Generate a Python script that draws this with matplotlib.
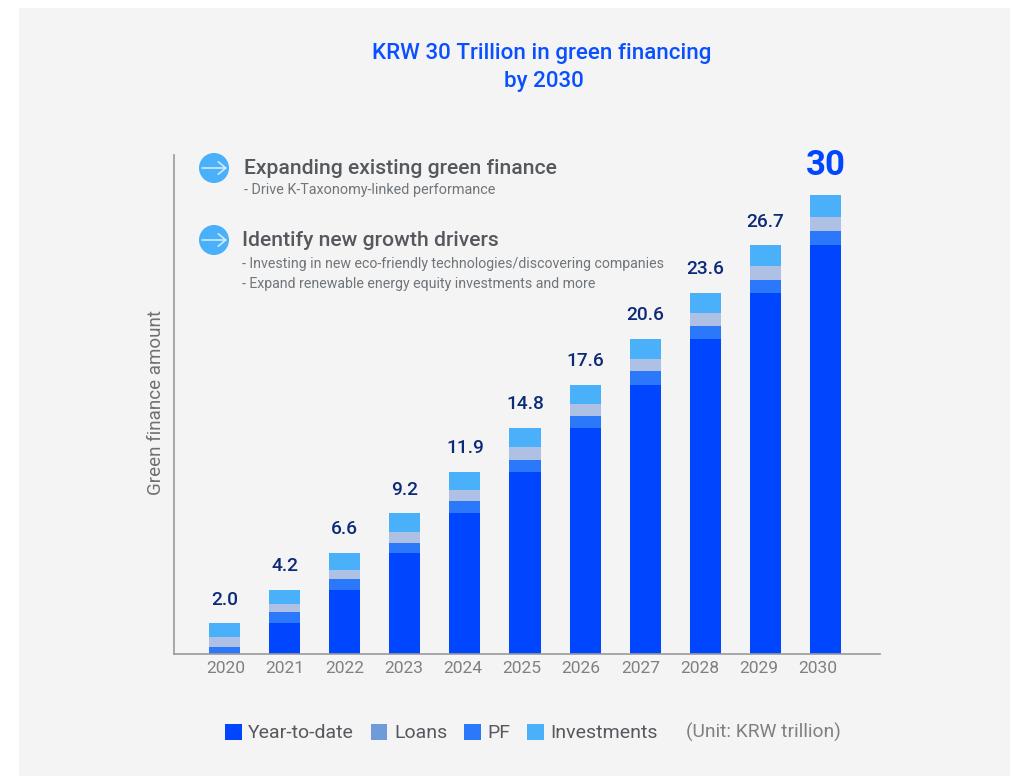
import matplotlib
matplotlib.use("Agg")
import matplotlib.pyplot as plt
from matplotlib.patches import Rectangle, Circle, Patch
import numpy as np

years = ['2020','2021','2022','2023','2024','2025','2026','2027','2028','2029','2030']
ytd = [0.0,2.0,4.2,6.6,9.2,11.9,14.8,17.6,20.6,23.6,26.7]
pf = [0.46,0.72,0.72,0.65,0.78,0.78,0.78,0.92,0.85,0.85,0.92]
loans = [0.65,0.52,0.59,0.72,0.72,0.85,0.78,0.78,0.85,0.92,0.92]
investments = [0.89,0.96,1.09,1.23,1.20,1.27,1.24,1.30,1.30,1.33,1.46]
totals = ['2.0','4.2','6.6','9.2','11.9','14.8','17.6','20.6','23.6','26.7','30']

W, H = 1016, 776
FONT = ['Roboto', 'DejaVu Sans']
plt.rcParams['font.family'] = FONT
BLUE = '#0046ff'; PF = '#2b78fb'; LOAN = '#aec1e5'; LOAN_KEY = '#6f9cd8'; INV = '#4ab0fa'
GREY = '#55595e'

fig = plt.figure(figsize=(W/100, H/100), dpi=100, facecolor='white')
bg = fig.add_axes([0, 0, 1, 1], zorder=0)
bg.set_xlim(0, W); bg.set_ylim(H, 0); bg.axis('off')
bg.add_patch(Rectangle((19, 8), 991, 768, fc='#f4f4f4', ec='none'))

ax = fig.add_axes([174/W, 1-654/H, (880-174)/W, (654-155)/H], zorder=1)
ax.patch.set_alpha(0)
x = np.arange(len(years))
w = 0.517
y0 = np.array(ytd); y1 = y0+np.array(pf); y2 = y1+np.array(loans); y3 = y2+np.array(investments)
ax.bar(x, ytd, w, color=BLUE)
ax.bar(x, pf, w, bottom=y0, color=PF)
ax.bar(x, loans, w, bottom=y1, color=LOAN)
ax.bar(x, investments, w, bottom=y2, color=INV)
ax.set_xlim(-0.84, 10.907)
ax.set_ylim(0, 499/15.3)
for s in ['top', 'right']:
    ax.spines[s].set_visible(False)
for s in ['left', 'bottom']:
    ax.spines[s].set_color('#9a9a9a'); ax.spines[s].set_linewidth(1.2)
ax.set_yticks([])
ax.set_xticks(0.025 + 0.985*x, years)
ax.tick_params(axis='x', length=0, pad=4.7, labelsize=12.5, labelcolor='#808080')
ax.set_ylabel('Green finance amount', fontsize=13.5, color='#707070', labelpad=6)
ax.yaxis.set_label_coords((165-174)/(880-174), 0.505)

for i, t in enumerate(totals):
    last = i == len(totals)-1
    ax.annotate(t, (x[i], y3[i]), xytext=(0, 10.5 if not last else 9.5), textcoords='offset points',
                ha='center', va='bottom',
                color=BLUE if last else '#0c2a78',
                fontsize=25 if last else 13.8, fontweight='bold' if last else 'medium')

bg.text(542, 53, 'KRW 30 Trillion in green financing', ha='center', va='center',
        color='#0a50ff', fontsize=16.1, fontweight='medium')
bg.text(544, 81, 'by 2030', ha='center', va='center', color='#0a50ff', fontsize=16.1, fontweight='medium')

for cy in (168, 240):
    bg.add_patch(Circle((214, cy), 15, fc=INV, ec='none'))
    bg.annotate('', xy=(227, cy), xytext=(202, cy),
                arrowprops=dict(arrowstyle='->,head_length=0.55,head_width=0.45', color='#d9efff', lw=1.1, shrinkA=0, shrinkB=0))

bg.text(244, 168, 'Expanding existing green finance', va='center', color=GREY, fontsize=15.2, fontweight='medium')
bg.text(244, 190, '- Drive K-Taxonomy-linked performance', va='center', color='#70757a', fontsize=10.4)
bg.text(242, 241, 'Identify new growth drivers', va='center', color=GREY, fontsize=15.2, fontweight='medium')
bg.text(242, 264, '- Investing in new eco-friendly technologies/discovering companies', va='center', color='#70757a', fontsize=10.2)
bg.text(242, 284, '- Expand renewable energy equity investments and more', va='center', color='#70757a', fontsize=10.2)

handles = [Patch(fc=BLUE, label='Year-to-date'), Patch(fc=LOAN_KEY, label='Loans'),
           Patch(fc=PF, label='PF'), Patch(fc=INV, label='Investments')]
bg.legend(handles=handles, ncol=4, frameon=False, loc='center left',
          bbox_to_anchor=(225/W, 1-733/H), bbox_transform=fig.transFigure,
          borderaxespad=0, borderpad=0, fontsize=14, labelcolor=GREY,
          handlelength=0.85, handleheight=0.9, handletextpad=0.33, columnspacing=0.88)
bg.text(841, 732, '(Unit: KRW trillion)', ha='right', va='center', color='#808080', fontsize=13.8)

fig.savefig('out.png', dpi=100)
